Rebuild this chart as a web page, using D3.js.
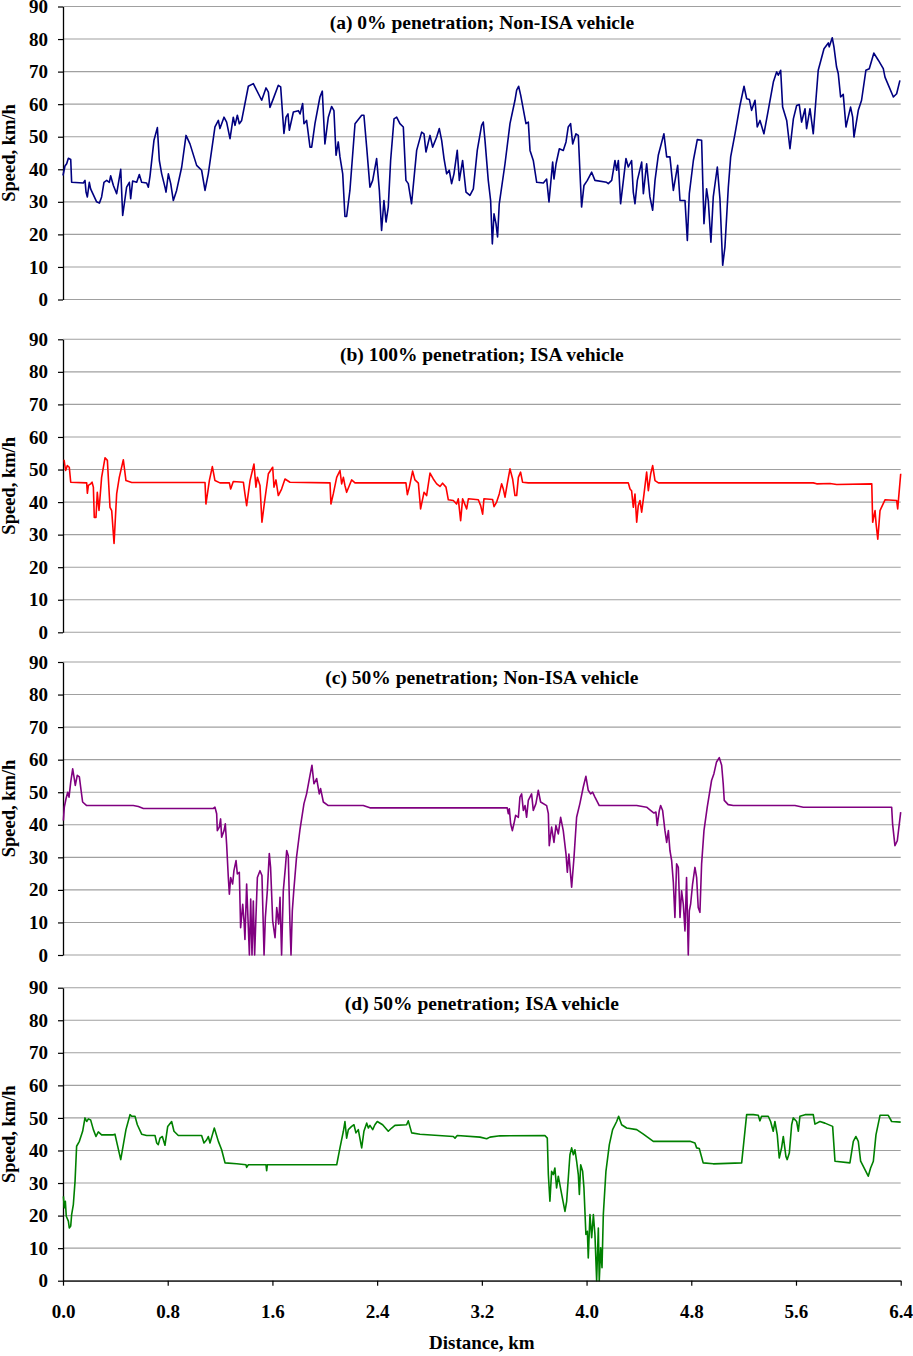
<!DOCTYPE html>
<html>
<head>
<meta charset="utf-8">
<script src="https://cdn.jsdelivr.net/npm/d3@7"></script>
<style>
  body { margin: 0; background: #fff; }
  text { font-family: "Liberation Serif", "Times New Roman", serif; font-weight: bold; fill: #000; }
</style>
</head>
<body>
<svg id="chart" width="913" height="1356"></svg>
<script>
// ---- data: [distance km, speed km/h] ----
var speedA = [[0.00,38.1],[0.015,41],[0.028,41.7],[0.041,43.4],[0.059,43],[0.066,36],[0.155,35.8],[0.168,36.6],[0.176,33],[0.186,31.5],[0.201,36],[0.211,34],[0.257,30],[0.278,29.6],[0.295,31.5],[0.313,36],[0.334,36.6],[0.354,36],[0.364,38],[0.385,35],[0.410,32.5],[0.441,40],[0.456,25.8],[0.486,34.5],[0.507,36],[0.517,31],[0.532,36.4],[0.563,36],[0.583,38.4],[0.601,36],[0.639,35.8],[0.652,34.5],[0.665,38],[0.695,48.9],[0.721,52.8],[0.736,42.7],[0.754,38.6],[0.779,34.5],[0.787,33],[0.805,38.6],[0.823,35.6],[0.843,30.4],[0.868,33.5],[0.907,40.7],[0.940,50.4],[0.970,47.8],[1.021,41.2],[1.059,39.7],[1.085,33.5],[1.110,38.6],[1.161,53],[1.187,55],[1.199,52.5],[1.230,56],[1.250,54.5],[1.276,49.4],[1.301,56],[1.314,53.5],[1.332,56.6],[1.347,54],[1.365,55],[1.416,65.5],[1.454,66.3],[1.518,61.2],[1.551,65],[1.569,63.7],[1.581,59],[1.607,61.7],[1.645,65.8],[1.663,65.3],[1.688,51],[1.704,56],[1.719,57],[1.729,52],[1.760,57.6],[1.798,58],
  [1.811,57],[1.831,60.2],[1.841,54],[1.861,55],[1.887,46.8],[1.900,46.8],[1.925,54],[1.963,62.2],[1.981,64],[2.001,47.8],[2.027,56],[2.052,59.3],[2.070,58],[2.086,44.3],[2.103,48.4],[2.116,43.8],[2.137,38.6],[2.154,25.5],[2.167,25.5],[2.192,33.5],[2.231,54],[2.282,56.6],[2.299,56.6],[2.320,46.8],[2.345,34.5],[2.366,36.6],[2.396,43.3],[2.417,33.5],[2.434,21.2],[2.452,30.4],[2.468,23.8],[2.485,28.4],[2.503,42.7],[2.529,55.5],[2.549,56],[2.574,54],[2.600,53],[2.620,36.6],[2.638,35.6],[2.663,29.4],[2.702,45.8],[2.740,51.4],[2.758,50.9],[2.773,45.3],[2.804,50.4],[2.824,46.8],[2.855,49.9],[2.875,52.5],[2.893,48.9],[2.911,43.3],[2.931,38.6],[2.951,39.7],[2.969,35.6],[2.987,38.6],[3.012,45.8],[3.028,36.6],[3.053,42.7],[3.079,33],[3.109,32],[3.135,34],[3.165,45.8],[3.198,53.5],[3.211,54.5],[3.224,48.9],[3.249,36.6],[3.267,30.4],[3.280,17.1],[3.293,26.3],[3.308,23.3],[3.320,19.2],[3.333,29.4],[3.377,41.7],[3.415,54],[3.453,61.2],[3.466,64.3],[3.481,65.5],[3.497,62.7],[3.537,54],[3.555,54.5],[3.568,45.8],[3.593,42.7],[3.619,36],[3.670,35.8],[3.695,37],[3.713,30],[3.741,42.2],[3.751,37],[3.767,41.7],[3.792,46.3],[3.822,45.8],[3.843,48.4],[3.860,53],[3.878,54],[3.894,47.8],[3.919,50.9],[3.937,50.4],[3.950,38.6],[3.962,28.4],[3.980,35],[4.006,36.6],[4.039,39.1],[4.064,36.6],[4.153,36],
  [4.166,35.6],[4.192,36.6],[4.217,42.7],[4.230,39.7],[4.243,42.7],[4.260,29.4],[4.301,43.3],[4.319,40.7],[4.344,42.7],[4.357,33],[4.370,29.4],[4.388,36.6],[4.421,42.2],[4.434,32.5],[4.459,41.7],[4.484,31.5],[4.505,27.4],[4.523,36.6],[4.548,44.3],[4.591,50.9],[4.612,43.8],[4.637,43.8],[4.663,33.5],[4.696,41.2],[4.714,30.4],[4.752,30.4],[4.770,18.1],[4.785,32.5],[4.816,42.7],[4.846,49.1],[4.879,48.9],[4.897,23.3],[4.917,34],[4.930,30.4],[4.950,17.6],[4.968,31.5],[4.999,40.7],[5.019,31],[5.040,10.5],[5.057,16.1],[5.083,34.5],[5.101,43.8],[5.134,50.9],[5.172,59.6],[5.203,65.5],[5.223,61.7],[5.244,61.4],[5.261,58.1],[5.287,61.2],[5.304,53],[5.325,55],[5.355,50.9],[5.388,58.1],[5.427,66.8],[5.452,69.9],[5.465,68.9],[5.483,70.4],[5.498,59.1],[5.529,55],[5.554,46.3],[5.580,55.5],[5.605,59.6],[5.625,59.9],[5.643,54.5],[5.669,58.6],[5.681,52.5],[5.707,58.6],[5.732,50.9],[5.770,70.4],[5.814,77],[5.847,78.8],[5.854,77.6],[5.877,80.4],[5.890,77.6],[5.910,71.4],[5.923,69.4],[5.941,62.2],[5.961,63],[5.982,53],[5.999,56],[6.017,59.1],[6.033,56],[6.043,49.9],[6.076,58.1],[6.101,61.2],[6.134,70.4],[6.160,70.9],[6.195,75.7],[6.229,73.5],[6.267,70.9],[6.280,68.3],[6.344,62.2],[6.369,63.2],[6.394,67.3]];

var speedB = [[0.008,53],[0.020,49.7],[0.033,51.2],[0.048,50.7],[0.059,46.1],[0.181,45.9],[0.186,42.7],[0.194,45.1],[0.211,45.6],[0.222,46.1],[0.232,44.6],[0.239,35.3],[0.252,35.3],[0.262,43],[0.275,37.4],[0.295,47.6],[0.321,53.6],[0.339,52.8],[0.359,38.4],[0.372,37.4],[0.390,27.3],[0.410,42.5],[0.430,47.6],[0.461,53],[0.481,46.6],[0.525,46],[1.085,46],[1.092,39.4],[1.118,46.6],[1.141,50.9],[1.161,46.6],[1.199,45.9],[1.271,45.9],[1.281,44],[1.301,46.3],[1.378,46.1],[1.390,42.5],[1.403,38.9],[1.429,46.6],[1.459,51.7],[1.474,44.6],[1.485,47.6],[1.505,45.1],[1.520,33.8],[1.536,38.9],[1.569,48.7],[1.602,50.7],[1.612,44.6],[1.627,46.8],[1.645,42],[1.670,44],[1.696,47.1],[1.734,46.1],[2.040,45.9],[2.047,39.4],[2.065,42.5],[2.091,47.6],[2.116,49.7],[2.129,45.6],[2.142,47.6],[2.154,45.1],[2.167,43],[2.205,46.8],[2.231,45.9],[2.620,45.9],[2.631,42.3],[2.646,44.6],[2.671,49.5],[2.689,46.8],[2.715,45.8],[2.732,37.9],[2.758,43],[2.778,42],[2.804,48.9],[2.829,47.1],[2.855,45.6],[2.880,44.8],[2.900,45.8],[2.926,44.6],[2.944,40.7],[2.982,40.5],[3.007,39.4],[3.020,41],[3.038,34.3],[3.053,41],[3.084,37.9],[3.097,41],[3.173,40.7],[3.191,38.9],[3.206,36.3],[3.216,41],[3.282,40.8],[3.293,38.6],[3.313,40],[3.333,42.5],[3.351,45.6],[3.364,44],[3.377,41.5],[3.394,45.6],[3.415,50.2],[3.435,47.1],[3.453,42],[3.466,42],[3.479,47.6],[3.496,49.2],[3.511,46.1],[3.555,45.9],[4.319,45.9],[4.332,44],[4.344,43.5],[4.357,38.4],[4.370,42.5],[4.383,33.8],[4.395,38.9],[4.408,40.5],[4.421,36.9],[4.439,42.5],[4.459,49.2],[4.472,43.5],[4.490,48.7],[4.505,51.2],[4.523,46.6],[4.549,45.9],[5.732,45.9],[5.758,45.6],[5.860,45.7],[5.911,45.4],[6.179,45.6],[6.186,33.8],[6.204,37.4],[6.212,33.3],[6.225,28.6],[6.242,37.4],[6.280,40.7],[6.369,40.5],[6.377,37.9],[6.400,48.7]];

var speedC = [[0.003,41.3],[0.010,45.4],[0.023,48],[0.036,50],[0.046,48.5],[0.059,53.1],[0.074,57.2],[0.084,54.7],[0.094,52.1],[0.109,55.2],[0.125,54.7],[0.138,50.6],[0.150,47],[0.181,45.9],[0.537,45.9],[0.576,45.6],[0.614,45],[1.148,45],[1.161,45.4],[1.174,43.4],[1.179,38.2],[1.194,39.3],[1.204,41.8],[1.212,36.2],[1.230,38.2],[1.240,40.3],[1.250,34.1],[1.263,23.8],[1.271,18.7],[1.281,23.8],[1.296,21.8],[1.306,25.9],[1.322,29],[1.332,24.9],[1.347,25.4],[1.357,8.4],[1.373,15.6],[1.383,10.5],[1.390,4.8],[1.403,21.8],[1.416,8.4],[1.424,0],[1.434,17.2],[1.444,0],[1.454,16.6],[1.464,0],[1.474,11.5],[1.485,23.8],[1.505,25.9],[1.520,24.4],[1.536,0],[1.546,11.5],[1.561,19.7],[1.576,31.2],[1.586,26.9],[1.602,10.5],[1.620,5.3],[1.633,14.6],[1.648,9.5],[1.658,17.7],[1.670,0],[1.683,19.7],[1.699,26.9],[1.709,32.1],[1.721,30.5],[1.734,9.5],[1.742,0],[1.752,13.6],[1.763,19.7],[1.784,30],[1.811,38.7],[1.841,46.5],[1.861,49.5],[1.887,55.2],[1.902,58.3],[1.917,52.6],[1.938,54.2],[1.958,49.5],[1.968,51.1],[1.989,47],[2.027,45.9],[2.294,45.9],[2.345,45.2],[3.394,45.2],[3.402,43.4],[3.410,44.9],[3.420,40.3],[3.433,38.2],[3.445,40.3],[3.458,42.9],[3.479,42.3],[3.491,48.5],[3.504,49.5],[3.517,44.4],[3.530,45.9],[3.542,42.3],[3.555,47.5],[3.580,49.5],[3.593,44.4],[3.613,46.5],[3.631,50.6],[3.649,47],[3.695,45.9],[3.708,43.4],[3.715,33.6],[3.733,39.3],[3.751,34.6],[3.766,39.8],[3.784,37.2],[3.802,42.3],[3.822,38.2],[3.843,31],[3.853,25.4],[3.865,31],[3.886,20.8],[3.904,30],[3.924,42.3],[3.949,46.5],[3.975,51.6],[3.995,54.9],[4.013,50.6],[4.031,49.5],[4.046,50],[4.064,48.5],[4.097,45.9],[4.383,45.9],[4.459,45.4],[4.484,44.6],[4.515,43.6],[4.530,43.9],[4.540,39.8],[4.556,44.4],[4.566,45.9],[4.581,44.4],[4.599,38.2],[4.612,34.6],[4.625,38.2],[4.637,32.1],[4.650,29],[4.663,22.3],[4.675,11.5],[4.688,28],[4.701,26.9],[4.714,11.5],[4.726,19.7],[4.739,15.6],[4.752,7.4],[4.764,23.8],[4.777,0],[4.785,13.6],[4.795,15.6],[4.810,21.8],[4.828,26.9],[4.841,23.8],[4.853,14.6],[4.866,13.1],[4.879,28],[4.897,38.2],[4.922,45.4],[4.955,53.6],[4.973,55.7],[4.993,59.3],[5.014,60.6],[5.032,58.3],[5.044,52.6],[5.052,47.5],[5.082,46.2],[5.121,45.9],[5.592,45.9],[5.656,45.4],[6.331,45.4],[6.338,40.3],[6.356,33.6],[6.374,35.1],[6.400,43.9]];

var speedD = [[0.003,25.9],[0.010,22.4],[0.018,24.4],[0.025,19.8],[0.041,18.3],[0.048,16.2],[0.059,16.8],[0.066,20.3],[0.079,23.4],[0.092,30.5],[0.104,41.3],[0.125,42.8],[0.150,45.9],[0.168,50],[0.181,48.9],[0.194,49.7],[0.211,49.4],[0.232,46.4],[0.252,44.3],[0.270,45.7],[0.295,44.8],[0.385,44.8],[0.397,45],[0.415,41.8],[0.441,37.2],[0.461,41.8],[0.481,46.4],[0.512,51],[0.525,50.5],[0.550,50.5],[0.568,47.9],[0.601,45],[0.639,44.6],[0.703,44.6],[0.716,42.3],[0.728,41.8],[0.741,43.8],[0.759,44.3],[0.779,41.6],[0.800,47.4],[0.830,48.9],[0.848,45.9],[0.881,44.6],[1.059,44.6],[1.077,42.3],[1.098,43.3],[1.110,44.3],[1.123,42.3],[1.141,44.8],[1.156,46.9],[1.187,42.8],[1.212,40.2],[1.238,36.2],[1.327,35.9],[1.398,35.6],[1.403,34.8],[1.416,35.6],[1.551,35.6],[1.556,33.8],[1.561,35.6],[2.091,35.6],[2.116,40.8],[2.142,45.9],[2.154,48.9],[2.167,43.8],[2.180,46.4],[2.205,47.4],[2.223,47.9],[2.238,45.4],[2.256,46.4],[2.282,40.8],[2.299,45.9],[2.320,48.4],[2.333,46.9],[2.345,47.7],[2.366,46.4],[2.383,47.9],[2.401,48.9],[2.442,47.9],[2.485,45.9],[2.511,46.9],[2.536,47.7],[2.625,47.9],[2.638,49.1],[2.664,45.4],[2.727,45],[2.982,44.3],[2.995,43.8],[3.012,44.6],[3.186,44.1],[3.237,43.6],[3.262,44.1],[3.339,44.5],[3.682,44.6],[3.700,43.8],[3.708,32.6],[3.720,24.4],[3.733,33.6],[3.746,32.6],[3.758,34.6],[3.771,28.5],[3.784,32.1],[3.810,26.5],[3.835,21.3],[3.848,24.4],[3.873,38.7],[3.886,40.8],[3.899,38.7],[3.911,40.2],[3.924,36.7],[3.937,32.6],[3.945,26.5],[3.955,35.6],[3.970,33.6],[3.980,28.5],[3.995,14.2],[4.006,15.2],[4.013,7],[4.026,20.3],[4.039,13.2],[4.052,20.3],[4.064,14.2],[4.077,0],[4.090,16.2],[4.097,0],[4.108,10.1],[4.118,4],[4.128,20.3],[4.148,33.6],[4.174,41.8],[4.199,46.4],[4.230,48.9],[4.245,50.5],[4.268,47.9],[4.306,46.9],[4.383,46.4],[4.434,45],[4.510,42.8],[4.790,42.8],[4.828,42.3],[4.841,40.8],[4.861,40.6],[4.891,36.2],[4.968,35.9],[5.185,36.2],[5.223,51],[5.274,51],[5.312,50.8],[5.324,49.1],[5.337,50.5],[5.388,50.5],[5.406,48.9],[5.426,45.9],[5.439,48.9],[5.457,44.8],[5.472,37.7],[5.490,40.8],[5.503,44.3],[5.523,38.2],[5.533,37.2],[5.549,39.2],[5.567,47.9],[5.579,50],[5.605,48.9],[5.618,45.9],[5.630,50.5],[5.669,51],[5.732,51],[5.745,48.1],[5.783,48.9],[5.821,48.4],[5.880,47.4],[5.898,36.7],[6.012,36.2],[6.038,42.8],[6.058,44.3],[6.076,42.8],[6.094,36.7],[6.127,34.1],[6.152,32.1],[6.170,34.6],[6.191,36.7],[6.211,44.8],[6.242,50.8],[6.305,50.8],[6.331,48.9],[6.400,48.7]];

var panelTitles = ["(a) 0% penetration; Non-ISA vehicle", "(b) 100% penetration; ISA vehicle",
                   "(c) 50% penetration; Non-ISA vehicle", "(d) 50% penetration; ISA vehicle"];
var panelColors = ["#000080", "#ff0000", "#800080", "#008000"];
var yTicks = [0, 10, 20, 30, 40, 50, 60, 70, 80, 90];
var xTicks = [0, 0.8, 1.6, 2.4, 3.2, 4.0, 4.8, 5.6, 6.4];

var series = [speedA, speedB, speedC, speedD];

// ---- layout ----
var svg = d3.select("#chart");
var left = 63, right = 900.7;
var tops = [6.5, 339.3, 662, 987.7];
var panelH = 293;

var x = d3.scaleLinear().domain([0, 6.4]).range([left, right]);

series.forEach(function(data, i) {
    var top = tops[i];
    var y = d3.scaleLinear().domain([0, 90]).range([top + panelH, top]);
    var g = svg.append("g").attr("class", "panel");

    // gridlines
    g.selectAll(".grid").data(yTicks).enter().append("line")
        .attr("class", "grid")
        .attr("x1", left).attr("x2", right)
        .attr("y1", d => y(d)).attr("y2", d => y(d))
        .attr("stroke", "#a0a0a0").attr("stroke-width", 1.1);

    // y axis
    var yAxis = d3.axisLeft(y).tickValues(yTicks).tickSize(5).tickSizeOuter(0).tickPadding(10);
    var ya = g.append("g").attr("transform", "translate(" + left + ",0)").call(yAxis);
    ya.attr("font-size", null).attr("font-family", null);
    ya.select(".domain").attr("stroke", "#000").attr("stroke-width", 1.3);
    ya.selectAll(".tick line").attr("stroke", "#000").attr("stroke-width", 1.2);
    ya.selectAll(".tick text").style("font-size", "19px");

    // y title
    g.append("text")
        .attr("transform", "translate(15," + (top + panelH / 2) + ") rotate(-90)")
        .attr("text-anchor", "middle")
        .style("font-size", "18.5px")
        .text("Speed, km/h");

    // panel title
    g.append("text")
        .attr("x", (left + right) / 2)
        .attr("y", top + 22)
        .attr("text-anchor", "middle")
        .style("font-size", "19.5px")
        .text(panelTitles[i]);

    // series line
    var line = d3.line().x(d => x(d[0])).y(d => y(d[1]));
    g.append("path")
        .datum(data)
        .attr("d", line)
        .attr("fill", "none")
        .attr("stroke", panelColors[i])
        .attr("stroke-width", 1.6)
        .attr("stroke-linejoin", "round");

    if (i == series.length - 1) {
        var xAxis = d3.axisBottom(x).tickValues(xTicks).tickSize(5).tickSizeOuter(0)
            .tickPadding(19).tickFormat(d3.format(".1f"));
        var xa = g.append("g").attr("transform", "translate(0," + (top + panelH) + ")").call(xAxis);
        xa.attr("font-size", null).attr("font-family", null);
        xa.select(".domain").attr("stroke", "#000").attr("stroke-width", 1.3);
        xa.selectAll(".tick line").attr("stroke", "#000").attr("stroke-width", 1.2);
        xa.selectAll(".tick text").style("font-size", "19px");

        g.append("text")
            .attr("x", (left + right) / 2)
            .attr("y", 1349)
            .attr("text-anchor", "middle")
            .style("font-size", "19px")
            .text("Distance, km");
    }
});
</script>
</body>
</html>
